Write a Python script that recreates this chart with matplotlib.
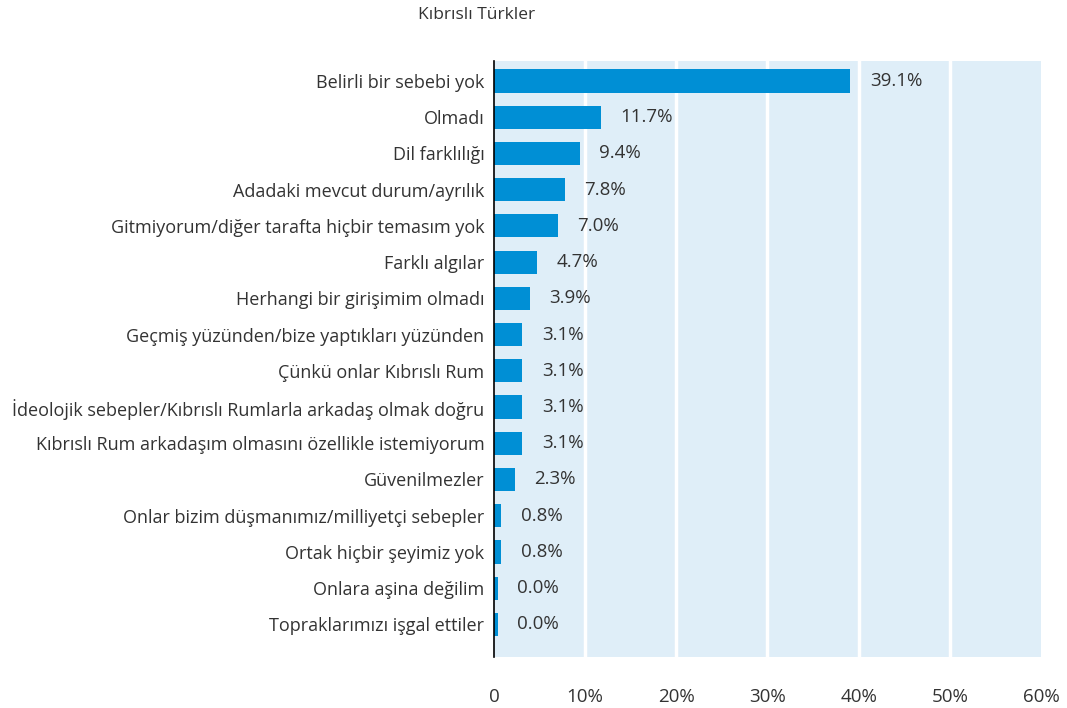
import matplotlib
matplotlib.use('Agg')
import matplotlib.pyplot as plt
import numpy as np

# data
categories = [
    'Belirli bir sebebi yok',
    'Olmadı',
    'Dil farklılığı',
    'Adadaki mevcut durum/ayrılık',
    'Gitmiyorum/diğer tarafta hiçbir temasım yok',
    'Farklı algılar',
    'Herhangi bir girişimim olmadı',
    'Geçmiş yüzünden/bize yaptıkları yüzünden',
    'Çünkü onlar Kıbrıslı Rum',
    'İdeolojik sebepler/Kıbrıslı Rumlarla arkadaş olmak doğru',
    'Kıbrıslı Rum arkadaşım olmasını özellikle istemiyorum',
    'Güvenilmezler',
    'Onlar bizim düşmanımız/milliyetçi sebepler',
    'Ortak hiçbir şeyimiz yok',
    'Onlara aşina değilim',
    'Topraklarımızı işgal ettiler',
]
values = [39.1, 11.7, 9.4, 7.8, 7.0, 4.7, 3.9, 3.1, 3.1, 3.1, 3.1, 2.3, 0.8, 0.8, 0.0, 0.0]
xticks = [0, 10, 20, 30, 40, 50, 60]
xticklabels = ['0', '10%', '20%', '30%', '40%', '50%', '60%']

plt.rcParams['font.family'] = ['Open Sans', 'DejaVu Sans']
text_color = '#333333'

fig = plt.figure(figsize=(10.67, 7.08), dpi=100)
ax = fig.add_axes([0.463, 0.072, 0.5126, 0.8418])
ax.set_facecolor('#dfeef8')

ypos = np.arange(len(categories))
shown = [max(v, 0.4) for v in values]  # zero bars still get a thin sliver
ax.barh(ypos, shown, height=0.64, color='#008fd5', zorder=3)

for y, v, s in zip(ypos, values, shown):
    ax.annotate('%.1f%%' % v, xy=(s, y), xytext=(14, 0), textcoords='offset points',
                va='center', ha='left', fontsize=13.5, color=text_color)

ax.set_xlim(0, 60)
ax.set_ylim(len(categories) - 0.5 + 0.4, -0.5 - 0.05)
ax.set_yticks(ypos)
ax.set_yticklabels(categories, fontsize=13, color=text_color)
ax.set_xticks(xticks)
ax.set_xticklabels(xticklabels, fontsize=13.5, color=text_color)
ax.tick_params(axis='both', length=0)
ax.tick_params(axis='x', pad=22)
ax.tick_params(axis='y', pad=7)

for x in xticks[1:-1]:
    ax.axvline(x, color='white', linewidth=2.5, zorder=1)

for s in ['top', 'right', 'bottom']:
    ax.spines[s].set_visible(False)
ax.spines['left'].set_color('black')
ax.spines['left'].set_linewidth(1.2)
ax.spines['left'].set_zorder(4)

fig.text(0.447, 0.99, 'Kıbrıslı Türkler', ha='center', va='top', fontsize=12.5, color=text_color)

fig.savefig('out.png', dpi=100)
